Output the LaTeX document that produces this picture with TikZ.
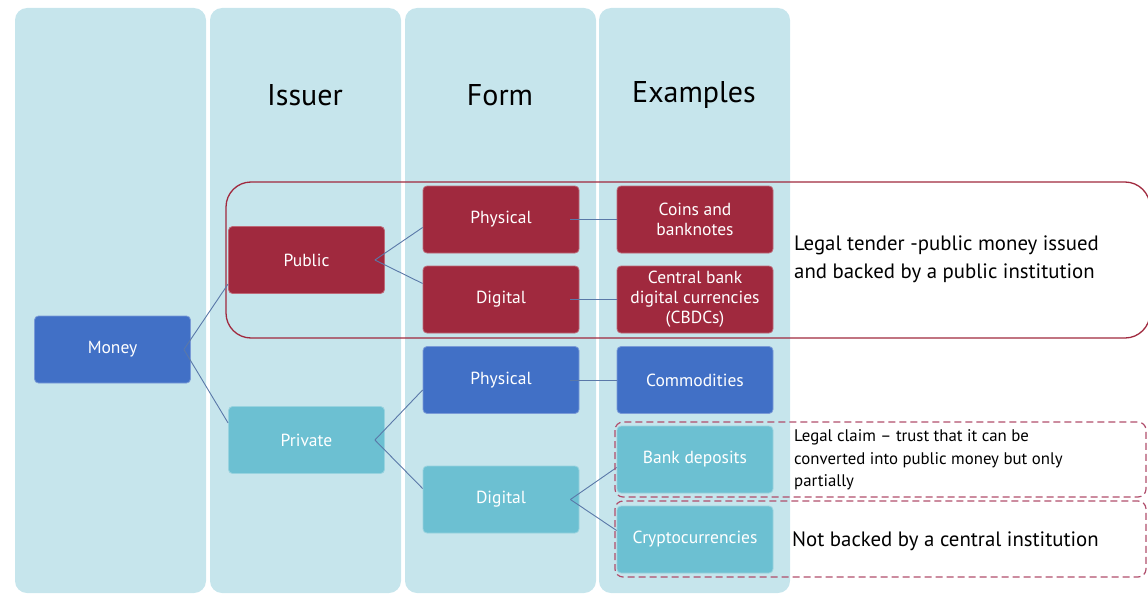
\documentclass[tikz,border=0pt]{standalone}
\usepackage{fontspec}
\setmainfont{PT Sans}
\usetikzlibrary{calc}
\definecolor{colbg}{HTML}{C6E5EC}
\definecolor{pubred}{HTML}{A0293E}
\definecolor{darkblue}{HTML}{4170C6}
\definecolor{privteal}{HTML}{6CC0D2}
\definecolor{linkblue}{HTML}{5A78A8}
\definecolor{dashred}{HTML}{B04E6C}

\begin{document}
\begin{tikzpicture}[x=1pt,y=-1pt,
  box/.style={draw=#1!70!white, fill=#1, rounded corners=4pt, minimum width=156pt, minimum height=67pt,
    text=white, font=\fontsize{17.5}{20}\selectfont, align=center, line width=0.8pt},
  link/.style={draw=linkblue, line width=0.9pt},
  head/.style={font=\fontsize{30}{34}\selectfont},
  note/.style={anchor=west, align=left, inner sep=0pt},
  dashbox/.style={draw=dashred, dash pattern=on 7pt off 4pt, line width=1.2pt, rounded corners=8pt}]
    \useasboundingbox (0,0) rectangle (1148,594);
    % columns and headers
    \foreach \x in {15,210,405,599}
      \fill[colbg, rounded corners=12pt] (\x,8) rectangle ++(191,585);
    \foreach \x/\t in {305/Issuer,500/Form,694/Examples}
      \node[head] at (\x,95) {\t};
    \draw[pubred, line width=1.3pt, rounded corners=25pt] (226,182) rectangle (1150,338);
    % boxes
    \node[box=darkblue] (money) at (112.5,349.5) {Money};
    \node[box=pubred] (public) at (306.5,260) {Public};
    \node[box=privteal] (private) at (306.5,440) {Private};
    \node[box=pubred] (pubphys) at (501,219.5) {Physical};
    \node[box=pubred] (pubdig) at (501,299.5) {Digital};
    \node[box=darkblue] (privphys) at (501,380) {Physical};
    \node[box=privteal] (privdig) at (501,499.5) {Digital};
    \node[box=pubred] (coins) at (695,219.5) {Coins and\\banknotes};
    \node[box=pubred] (cbdc) at (695,299.5) {Central bank\\digital currencies\\(CBDCs)};
    \node[box=darkblue] (commod) at (695,380) {Commodities};
    \node[box=privteal] (deposits) at (695,459.5) {Bank deposits};
    \node[box=privteal] (crypto) at (695,539.5) {Cryptocurrencies};
    % links
    \draw[link] ($(money.east)+(-7,0)$) -- ($(public.west)+(0,24)$);
    \draw[link] ($(money.east)+(-7,0)$) -- ($(private.west)+(0,-17)$);
    \draw[link] ($(public.east)+(-10,0)$) -- ($(pubphys.west)+(0,8)$);
    \draw[link] ($(public.east)+(-10,0)$) -- ($(pubdig.west)+(0,-16)$);
    \draw[link] ($(private.east)+(-10,0)$) -- ($(privphys.west)+(0,10)$);
    \draw[link] ($(private.east)+(-10,0)$) -- ($(privdig.west)+(0,-11)$);
    \draw[link] ($(privdig.east)+(-9,0)$) -- ($(deposits.west)+(0,8)$);
    \draw[link] ($(privdig.east)+(-9,0)$) -- ($(crypto.west)+(0,-9)$);
    \foreach \a/\b in {pubphys/coins,pubdig/cbdc,privphys/commod}
      \draw[link] ($(\a.east)+(-9,0)$) -- (\b.west);
    % notes
    \draw[dashbox] (615,422) rectangle (1146,497);
    \draw[dashbox] (615,501) rectangle (1146,577);
    \node[note, font=\fontsize{20.8}{28}\selectfont] (tendernote) at (794,259)
      {Legal tender -public money issued\\and backed by a public institution};
    \node[note, font=\fontsize{16.8}{22.5}\selectfont] (claimnote) at (794,460)
      {Legal claim -- trust that it can be\\converted into public money but only\\partially};
    \node[note, font=\fontsize{20.8}{23}\selectfont] (cryptonote) at (792,541)
      {Not backed by a central institution};
\end{tikzpicture}
\end{document}
